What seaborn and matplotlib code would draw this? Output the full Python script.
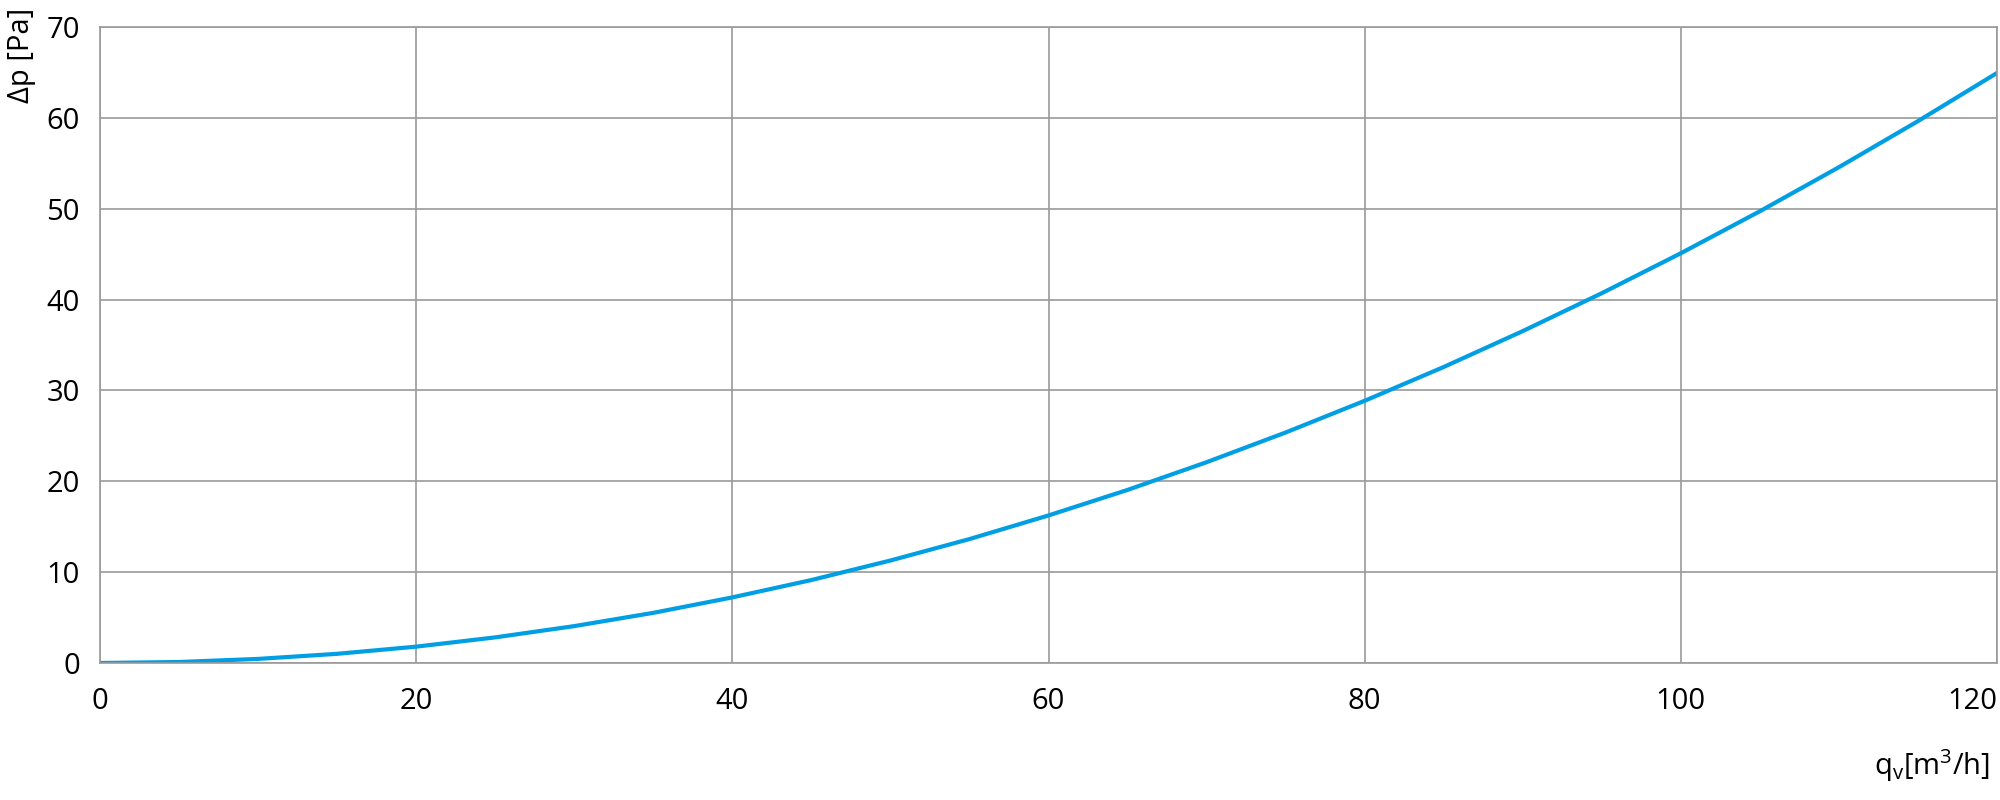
import numpy as np
import pandas as pd
import matplotlib
matplotlib.use("Agg")
import matplotlib.pyplot as plt
import seaborn as sns

# Pressure drop vs air flow
flow = [0, 5, 10, 15, 20, 25, 30, 35, 40, 45, 50, 55, 60,
        65, 70, 75, 80, 85, 90, 95, 100, 105, 110, 115, 120]
dp = [0, 0.11, 0.45, 1.01, 1.80, 2.82, 4.06, 5.52, 7.22, 9.13, 11.28, 13.64, 16.24,
      19.05, 22.10, 25.37, 28.86, 32.58, 36.53, 40.70, 45.10, 49.72, 54.57, 59.64, 64.94]
x_ticks = [0, 20, 40, 60, 80, 100, 120]
y_ticks = [0, 10, 20, 30, 40, 50, 60, 70]

sns.set_theme(style="white")
plt.rcParams['font.family'] = ['Open Sans', 'DejaVu Sans']
plt.rcParams['text.color'] = 'black'
plt.rcParams['mathtext.fontset'] = 'custom'
plt.rcParams['mathtext.rm'] = 'Open Sans'
plt.rcParams['mathtext.it'] = 'Open Sans'

grid_col = '#9a9a9a'
line_col = '#009fe3'

df = pd.DataFrame({'qv': flow, 'dp': dp})

fig = plt.figure(figsize=(20, 8), dpi=100)
ax = fig.add_axes([0.05, 0.17125, 0.9485, 0.795])

sns.lineplot(data=df, x='qv', y='dp', ax=ax, color=line_col, linewidth=3)

ax.set_xlim(0, 120)
ax.set_ylim(0, 70)
ax.set_xticks(x_ticks)
ax.set_yticks(y_ticks)
ax.grid(True, color=grid_col, linewidth=1.2)
ax.set_axisbelow(True)
for s in ax.spines.values():
    s.set_color(grid_col)
    s.set_linewidth(1.2)

ax.tick_params(axis='x', length=0, pad=17, labelsize=21, colors='black')
ax.tick_params(axis='y', length=6.5, width=1.2, color=grid_col, pad=8, labelsize=21, labelcolor='black')
ax.xaxis.label.set_visible(False)
ax.yaxis.label.set_visible(False)

# keep the last x label inside the figure
labels = ax.get_xticklabels()
labels[-1].set_horizontalalignment('right')

fig.text(0.011, 1 - 8 / 800, 'Δp [Pa]', rotation=90, ha='center', va='top', fontsize=21)
fig.text(0.995, 1 - 775 / 800, r'q$_\mathrm{v}$[m$^3$/h]', ha='right', va='baseline', fontsize=21)

fig.savefig('out.png', dpi=100)
